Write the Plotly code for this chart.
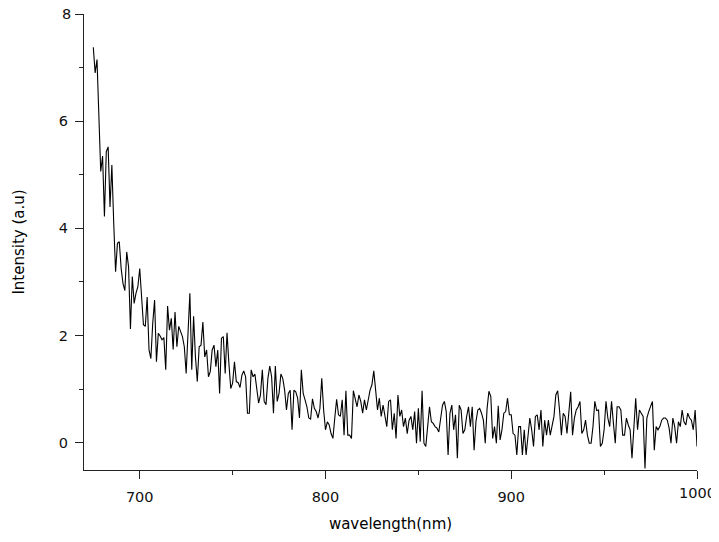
import plotly.graph_objects as go

# Intensity readings, 1 nm steps from 675 nm to 1000 nm
start_nm = 675
seg_a = [  # 675-726
    7.38, 6.90, 7.15, 5.90, 5.06, 5.35, 4.22, 5.43, 5.52, 4.40,
    5.18, 4.10, 3.19, 3.72, 3.75, 3.25, 2.97, 2.84, 3.56, 3.28,
    2.12, 3.10, 2.60, 2.79, 2.91, 3.25, 2.72, 2.20, 2.17, 2.72,
    1.73, 1.57, 2.23, 2.66, 1.51, 2.04, 1.99, 1.92, 1.96, 1.36,
    2.55, 2.10, 2.32, 1.74, 2.44, 1.79, 2.17, 2.07, 1.98, 1.79,
    1.29, 2.05,
]
seg_b = [  # 727-781
    2.79, 1.36, 2.36, 1.60, 1.14, 1.79, 1.82, 2.25, 1.60, 1.73,
    1.23, 1.33, 1.73, 1.82, 1.42, 1.73, 0.92, 1.95, 1.98, 1.29,
    2.05, 1.48, 1.01, 1.11, 1.51, 1.14, 1.12, 1.03, 1.26, 1.34,
    1.23, 0.55, 0.55, 1.36, 1.23, 1.28, 0.98, 0.74, 0.89, 1.36,
    0.77, 0.71, 1.20, 1.43, 1.23, 0.55, 1.43, 0.77, 0.92, 1.28,
    1.20, 0.98, 0.61, 0.92, 0.98,
]
seg_c = [  # 782-835
    0.24, 0.98, 0.95, 0.83, 0.46, 1.36, 0.92, 0.80, 0.67, 0.46,
    0.44, 0.82, 0.64, 0.58, 0.46, 0.64, 1.20, 0.61, 0.24, 0.39,
    0.33, 0.17, 0.08, 0.46, 0.81, 0.52, 0.49, 0.80, 0.14, 0.97,
    0.14, 0.14, 0.08, 0.97, 0.83, 0.67, 0.89, 0.77, 0.55, 0.80,
    0.61, 0.80, 0.98, 1.08, 1.34, 0.98, 0.61, 0.83, 0.49, 0.70,
    0.49, 0.30, 0.77, 0.80,
]
seg_d = [  # 836-888
    0.24, 0.55, 0.08, 0.89, 0.49, 0.61, 0.30, 0.46, 0.17, 0.42,
    0.49, 0.24, 0.58, -0.01, 0.64, 0.02, 0.97, -0.01, -0.07, 0.30,
    0.67, 0.39, 0.36, 0.30, 0.27, 0.20, 0.42, 0.70, 0.77, 0.58,
    -0.23, 0.55, 0.70, 0.24, 0.52, -0.29, 0.70, 0.61, 0.17, 0.24,
    0.49, 0.67, 0.30, 0.67, -0.14, 0.39, 0.61, 0.64, 0.55, 0.42,
    -0.01, 0.64, 0.96,
]
seg_e = [  # 889-942
    0.86, 0.08, 0.30, -0.01, 0.69, 0.05, 0.24, 0.55, 0.58, 0.83,
    0.52, 0.52, 0.17, 0.14, -0.23, 0.30, 0.30, -0.23, 0.24, -0.23,
    0.20, 0.46, 0.24, -0.07, 0.49, 0.52, 0.24, 0.61, -0.07, 0.42,
    0.14, 0.42, 0.14, 0.30, 0.49, 0.89, 0.97, 0.61, 0.14, 0.55,
    0.49, 0.17, 0.58, 0.95, 0.14, 0.46, 0.61, 0.67, 0.77, 0.17,
    0.24, 0.42, 0.14, -0.01,
]
seg_f = [  # 943-1000
    -0.01, 0.30, 0.77, 0.60, 0.61, -0.07, -0.01, 0.24, 0.77, 0.46,
    0.30, 0.77, 0.36, -0.01, 0.67, 0.67, 0.61, 0.14, 0.14, 0.46,
    0.33, 0.24, -0.29, 0.24, 0.83, 0.24, 0.61, 0.55, 0.49, -0.48,
    0.46, 0.58, 0.67, 0.77, -0.14, 0.30, 0.24, 0.30, 0.42, 0.46,
    0.46, 0.42, 0.27, -0.01, 0.46, 0.30, -0.01, 0.39, 0.30, 0.61,
    0.39, 0.33, 0.55, 0.46, 0.42, 0.24, 0.61, -0.07,
]
intensity = seg_a + seg_b + seg_c + seg_d + seg_e + seg_f
wavelength = list(range(start_nm, start_nm + len(intensity)))

x_ticks = [700, 800, 900, 1000]
x_minor = [750, 850, 950]
y_ticks = [0, 2, 4, 6, 8]
y_minor = [1, 3, 5, 7]

font = "DejaVu Sans, Liberation Sans, Arial, sans-serif"
axis_color = "#222"
label_color = "#111"
tick_size = 14.5

fig = go.Figure(go.Scatter(
    x=wavelength, y=intensity, mode="lines",
    line=dict(color="black", width=1.1), hoverinfo="skip", showlegend=False,
))

# page body keeps its default 8px margin, so the figure is sized to fit inside it
fig.update_layout(
    width=703, height=526,
    margin=dict(l=76, r=14, t=6, b=64),
    paper_bgcolor="white", plot_bgcolor="white",
    font=dict(family=font, size=15, color="black"),
)
common = dict(
    showgrid=False, zeroline=False, showline=True, linecolor=axis_color, linewidth=1.3,
    ticks="outside", ticklen=8, tickwidth=1.3, tickcolor=axis_color,
    tickfont=dict(size=tick_size, color=label_color),
)
# the edge labels (1000 and 8) sit at the figure edge; they are drawn as annotations below
fig.update_xaxes(
    range=[670, 1000], tickvals=x_ticks,
    ticktext=[str(v) for v in x_ticks[:-1]] + [""],
    minor=dict(tickvals=x_minor, ticks="outside", ticklen=4, tickwidth=1.3, tickcolor=axis_color),
    ticklabelstandoff=5,
    title=dict(text="wavelength(nm)", font=dict(size=15), standoff=14),
    **common,
)
fig.update_yaxes(
    range=[-0.51, 8], tickvals=y_ticks,
    ticktext=[str(v) for v in y_ticks[:-1]] + [""],
    minor=dict(tickvals=y_minor, ticks="outside", ticklen=4, tickwidth=1.3, tickcolor=axis_color),
    ticklabelstandoff=4,
    title=dict(text="Intensity (a.u)", font=dict(size=15), standoff=30),
    **common,
)
fig.add_annotation(
    x=x_ticks[-1], xref="x", y=0, yref="paper", text=str(x_ticks[-1]),
    showarrow=False, xanchor="center", yanchor="top", yshift=-13,
    font=dict(size=tick_size, color=label_color),
)
fig.add_annotation(
    x=0, xref="paper", y=y_ticks[-1], yref="y", text=str(y_ticks[-1]),
    showarrow=False, xanchor="right", yanchor="middle", xshift=-11,
    font=dict(size=tick_size, color=label_color),
)

# let the edge labels draw past the svg box instead of being clipped
fig.write_html(
    "out.html",
    post_script="document.querySelectorAll('svg.main-svg').forEach(function(s){s.style.overflow='visible';});",
)
